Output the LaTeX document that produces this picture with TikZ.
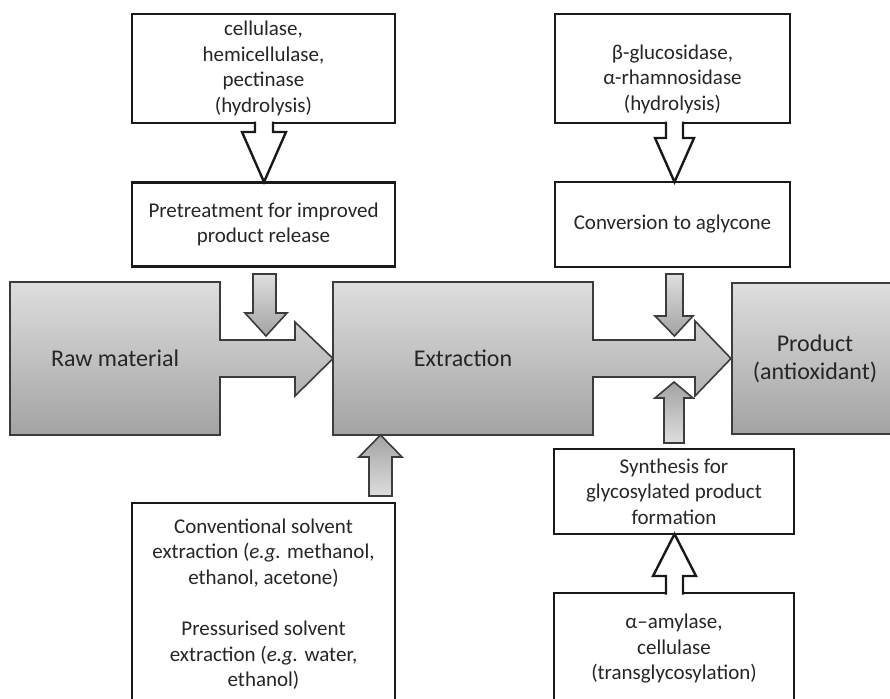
\documentclass[tikz,border=0pt]{standalone}
\usepackage{fontspec}
\setmainfont{Carlito}
\usetikzlibrary{calc}
\definecolor{txt}{HTML}{262626}
\definecolor{gline}{HTML}{3C3C3C}
\definecolor{gtop}{HTML}{DEDEDE}
\definecolor{gbot}{HTML}{A3A3A3}
\begin{document}
\begin{tikzpicture}[x=1pt,y=-1pt,
  wbox/.style={draw=black!90, line width=2.6pt, fill=white, rectangle, inner sep=0pt, align=center, text=txt, font=\fontsize{21}{25.5}\selectfont},
  gshape/.style={draw=gline, line width=1.6pt, top color=gtop, bottom color=gbot, line join=miter},
  gshapeup/.style={draw=gline, line width=1.6pt, top color=gbot, bottom color=gtop, line join=miter},
  gnode/.style={gshape, rectangle, inner sep=0pt, align=center, text=txt, font=\fontsize{24}{28}\selectfont},
  hollow/.style={draw=black!90, line width=2.4pt, fill=white, line join=miter},
  smalltxt/.style={font=\fontsize{21}{25.5}\selectfont, text=txt, align=center},
  bigtxt/.style={font=\fontsize{24}{28}\selectfont, text=txt, align=center}]
\useasboundingbox (0,0) rectangle (890,698);
\clip (0,0) rectangle (890,698);

% main flow
\path[gshape] (10,282) -- (220,282) -- (220,340) -- (295,340) -- (295,322) -- (333,358.5) -- (295,396) -- (295,377) -- (220,377) -- (220,435) -- (10,435) -- cycle;
\node[bigtxt] (raw) at (115,358) {Raw material};
\path[gshape] (333,282) -- (593,282) -- (593,340) -- (695,340) -- (695,321) -- (731,358.5) -- (695,396) -- (695,377) -- (593,377) -- (593,435) -- (333,435) -- cycle;
\node[bigtxt] (ext) at (463,358) {Extraction};
\node[gnode, minimum width=166, minimum height=151] (prod) at (815,358.5) {Product\\(antioxidant)};

% white boxes
\node[wbox, minimum width=263, minimum height=109] (enz1) at (263.5,68.5) {cellulase,\\hemicellulase,\\pectinase\\(hydrolysis)};
\node[wbox, minimum width=263, minimum height=84] (pre) at (263.5,224.5) {Pretreatment for improved\\product release};
\node[wbox, minimum width=235, minimum height=109] (enz2) at (672.5,68.5) {};
\node[smalltxt] (enz2t) at (672.5,79) {β-glucosidase,\\α-rhamnosidase\\(hydrolysis)};
\node[wbox, minimum width=235, minimum height=85] (conv) at (672.5,224.5) {Conversion to aglycone};
\node[wbox, minimum width=263, minimum height=220] (solv) at (263.5,613) {};
\node[smalltxt] (solvt) at (263.5,604) {Conventional solvent\\extraction (\textit{e.g.} methanol,\\ethanol, acetone)\\[26pt]Pressurised solvent\\extraction (\textit{e.g.} water,\\ethanol)};
\node[wbox, minimum width=240, minimum height=85] (syn) at (674,491.5) {Synthesis for\\glycosylated product\\formation};
\node[wbox, minimum width=240, minimum height=127] (enz3) at (674,656.5) {};
\node[smalltxt] (enz3t) at (674,649) {α–amylase,\\cellulase\\(transglycosylation)};

% hollow arrows
\draw[hollow] (255,121.5) -- (255,132) -- (242,132) -- (264,182) -- (286,132) -- (273,132) -- (273,121.5);
\draw[hollow] (666,121.5) -- (666,138) -- (655,138) -- (674.5,182) -- (694,138) -- (683,138) -- (683,121.5);
\draw[hollow] (666,594.5) -- (666,576) -- (653,576) -- (674.5,534) -- (696,576) -- (683,576) -- (683,594.5);

% grey arrows
\path[gshape] (253,274) -- (276,274) -- (276,313) -- (287,313) -- (266,336) -- (245,313) -- (253,313) -- cycle;
\path[gshape] (666,274) -- (683,274) -- (683,316) -- (693,316) -- (674.5,336) -- (655,316) -- (666,316) -- cycle;
\path[gshapeup] (664,443) -- (684,443) -- (684,398) -- (693,398) -- (674,382) -- (655,398) -- (664,398) -- cycle;
\path[gshapeup] (369,496) -- (392,496) -- (392,457) -- (402,457) -- (380.5,435) -- (359,457) -- (369,457) -- cycle;
\end{tikzpicture}
\end{document}
